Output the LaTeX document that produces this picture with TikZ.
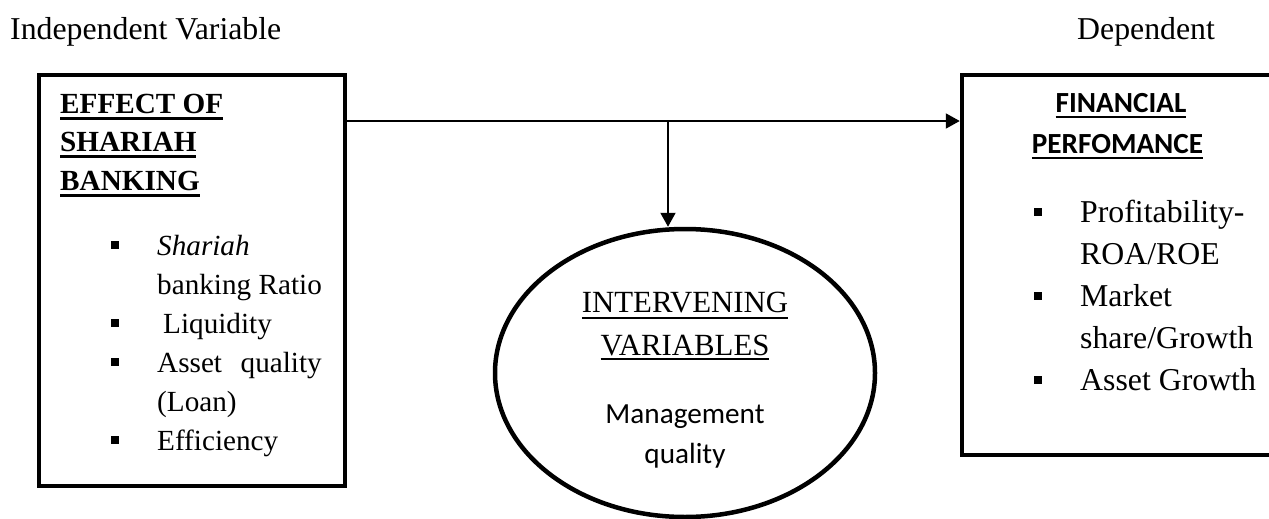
\documentclass[tikz,border=0pt]{standalone}
\usepackage{fontspec}
\setmainfont{Liberation Serif}
\newfontfamily\calfont{Carlito}
\usetikzlibrary{shapes.geometric,arrows.meta}
\usepackage{calc}
% font sizes (picture units are 1pt)
\newcommand\fsA{\fontsize{31.8}{42}\selectfont}
\newcommand\fsB{\fontsize{29.2}{38.5}\selectfont}
\newcommand\fsC{\fontsize{30.8}{40}\selectfont}
% underline with given thickness (#1) and drop below baseline (#2)
\newcommand\ulin[3]{\setbox0=\hbox{#3}\rlap{\rule[-#2]{\wd0}{#1}}\box0}
\begin{document}
\begin{tikzpicture}[x=1pt,y=-1pt,
  box/.style={draw,rectangle,line width=4.5pt,inner sep=0pt},
  oval/.style={draw,ellipse,line width=4.5pt,inner sep=0pt},
  txt/.style={anchor=base west,inner sep=0pt},
  ctxt/.style={anchor=base,inner sep=0pt},
  bullet/.style={fill,rectangle,inner sep=0pt,minimum size=8pt},
  arr/.style={line width=2pt,-{Triangle[length=14pt,width=15pt]}}]
\useasboundingbox (0,0) rectangle (1269,519);
\clip (0,0) rectangle (1269,519);

% headers
\node[txt,font=\fsA] (indep) at (10,40) {Independent Variable};
\node[txt,font=\fsA] (dep) at (1077,40) {Dependent};

% boxes and oval
\node[box,minimum width=306pt,minimum height=411pt] (lb) at (192,280.5) {};
\node[box,minimum width=328pt,minimum height=380pt] (rb) at (1126,265) {};
\node[oval,minimum width=380pt,minimum height=288pt] (ell) at (685,373) {};

% connectors
\coordinate (j) at (668,121);
\draw[arr] (lb.east |- j) -- (rb.west |- j);
\draw[arr] (j) -- (j |- ell.north);

% left box text
\node[txt,font=\fsB\bfseries] (h1) at (60,113) {\ulin{2.6pt}{6.5pt}{EFFECT OF}};
\node[txt,font=\fsB\bfseries] (h2) at (60,151.5) {\ulin{2.6pt}{6.5pt}{SHARIAH}};
\node[txt,font=\fsB\bfseries] (h3) at (60,190) {\ulin{2.6pt}{6.5pt}{BANKING}};

\node[bullet] (lb1) at (115,245) {};
\node[txt,font=\fsB] (l1) at (157,255) {\textit{Shariah}};
\node[txt,font=\fsB] (l2) at (157,294) {banking Ratio};
\node[bullet] (lb2) at (115,323) {};
\node[txt,font=\fsB] (l3) at (163,333) {Liquidity};
\node[bullet] (lb3) at (115,362) {};
\node[txt,font=\fsB] (l4) at (157,372) {\makebox[\widthof{banking Ratio}][s]{Asset quality}};
\node[txt,font=\fsB] (l5) at (157,411) {(Loan)};
\node[bullet] (lb4) at (115,440) {};
\node[txt,font=\fsB] (l6) at (157,450) {Efficiency};

% oval text
\node[ctxt,font=\fsC] (i1) at (685,312) {\ulin{1.6pt}{6.5pt}{INTERVENING}};
\node[ctxt,font=\fsC] (i2) at (685,355) {\ulin{1.6pt}{5pt}{VARIABLES}};
\node[ctxt,font=\calfont\fsB] (i3) at (685,423) {Management};
\node[ctxt,font=\calfont\fsB] (i4) at (685,463) {quality};

% right box text
\node[ctxt,font=\calfont\fsB\bfseries] (f1) at (1121,112) {\ulin{2.5pt}{6.3pt}{FINANCIAL}};
\node[ctxt,font=\calfont\fsB\bfseries] (f2) at (1117.5,153) {\ulin{2.5pt}{6.3pt}{PERFOMANCE}};

\node[bullet] (rb1) at (1038,212) {};
\node[txt,font=\fsA] (r1) at (1080,222) {Profitability-};
\node[txt,font=\fsA] (r2) at (1080,264) {ROA/ROE};
\node[bullet] (rb2) at (1038,296) {};
\node[txt,font=\fsA] (r3) at (1080,306) {Market};
\node[txt,font=\fsA] (r4) at (1080,348) {share/Growth};
\node[bullet] (rb3) at (1038,380) {};
\node[txt,font=\fsA] (r5) at (1080,390) {Asset Growth};
\end{tikzpicture}
\end{document}
